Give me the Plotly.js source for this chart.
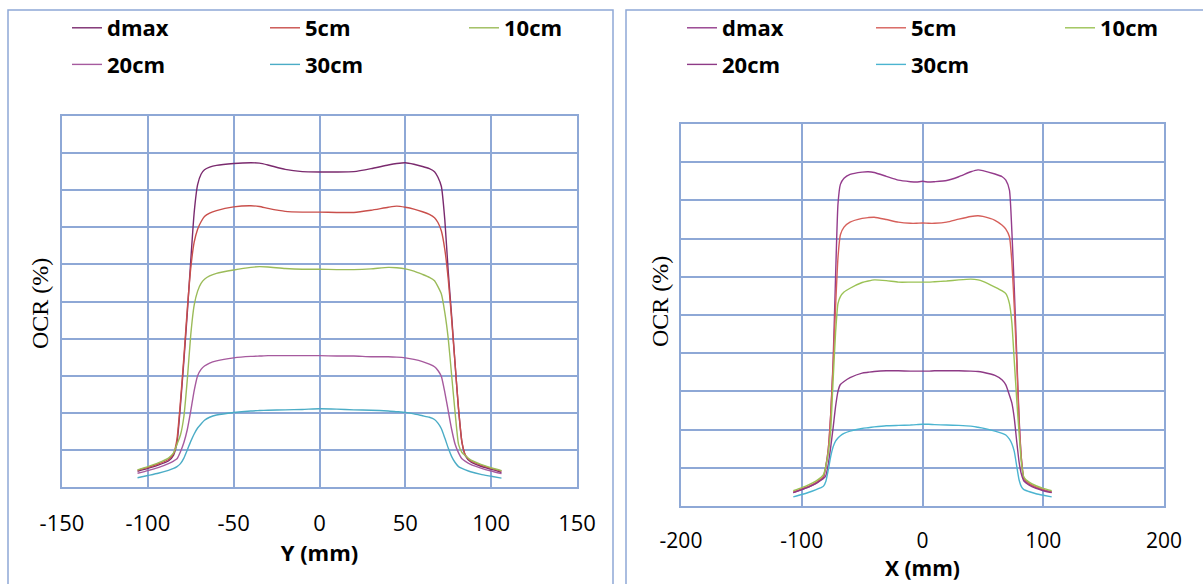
<!DOCTYPE html>
<html>
<head>
<meta charset="utf-8">
<script src="https://cdn.plot.ly/plotly-3.0.1.min.js"></script>
<style>html,body{margin:0;padding:0;background:#fff}#chart{width:1203px;height:584px}</style>
</head>
<body>
<div id="chart"></div>
<script>
// ---------- data ----------
const seriesNames = ["dmax", "5cm", "10cm", "20cm", "30cm"];

// Left panel: Y profile (mm)
const yPos = [-106,-100,-94,-88,-85,-83,-81,-79,-77,-75,-73,-71,-69,-67,-64,-60,-50,-40,-35,-30,-20,-10,0,10,20,30,40,45,50,55,60,64,67,69,71,73,75,77,79,81,83,85,88,94,100,106];
const yDmax = [4.2,5.0,5.9,7.0,8.6,12,22,34,47,61,74,81.5,84.3,85.5,86.2,86.7,87.2,87.4,87.3,86.8,85.6,85.0,84.9,84.9,85.0,85.8,86.8,87.2,87.4,87.0,86.4,85.8,85.0,83.5,81,72,58,46,33,21,12,8.4,6.8,5.6,4.8,3.9];
const y5cm  = [4.5,5.3,6.2,7.4,9.0,13,23,35,48,59,66,69.5,71.5,72.9,73.8,74.5,75.5,75.8,75.6,75.1,74.3,74.1,74.1,74.0,74.0,74.6,75.4,75.7,75.4,74.9,74.2,73.5,72.6,71.3,69.0,64,56,45,33,21,12,8.6,7.1,5.9,5.0,4.3];
const y10cm = [4.6,5.5,6.5,7.8,9.2,11.5,14,19,29,41,49,52.8,54.9,56.0,56.9,57.6,58.5,59.2,59.4,59.3,58.9,58.7,58.7,58.6,58.6,58.8,59.2,59.1,58.8,58.2,57.3,56.5,55.6,54.0,52,47,40,30,20,11.5,9.3,8.4,7.3,6.1,5.2,4.4];
const y20cm = [3.7,4.4,5.2,6.3,7.0,7.6,9.5,12,15.5,20.5,26,30.0,31.7,32.6,33.4,34.0,34.8,35.2,35.3,35.4,35.4,35.4,35.4,35.3,35.3,35.1,35.1,35.0,34.8,34.4,33.8,33.1,32.4,31.4,29.8,25.5,20.5,15.5,11.5,9.2,7.6,6.9,6.1,5.1,4.3,3.6];
const y30cm = [2.5,3.1,3.7,4.5,5.0,5.5,6.3,7.8,10.0,12.3,14.3,15.9,17.0,18.0,18.8,19.4,20.1,20.5,20.6,20.7,20.8,20.9,21.1,21.0,20.8,20.7,20.5,20.3,20.1,19.7,19.2,18.8,18.2,17.2,15.7,13.2,10.5,8.2,6.6,5.5,5.0,4.6,4.1,3.4,2.9,2.4];

// Right panel: X profile (mm)
const xPos = [-107,-100,-94,-88,-84,-82,-80,-78,-76,-74,-72,-70,-68,-65,-60,-50,-45,-40,-30,-20,-10,-5,0,5,10,20,30,40,46,50,60,66,69,72,74,76,78,80,82,84,88,94,100,107];
const xDmax = [3.5,4.3,5.0,6.0,6.8,7.4,10.5,15,24,38,60,79,84.2,85.8,86.8,87.4,87.5,87.3,86.3,85.3,84.9,84.8,85.0,84.8,84.9,85.2,86.2,87.5,88.0,87.8,86.9,86.2,85.3,82.7,72,57,40,23,12,7.0,5.8,4.8,4.2,3.7];
const x5cm  = [3.7,4.5,5.2,6.2,7.1,7.8,10.5,15,24,37,52,65,71,73.0,74.3,75.3,75.5,75.6,75.0,74.3,74.0,74.0,74.1,74.0,74.0,74.3,75.1,75.8,76.0,75.8,74.8,73.5,72.5,70.5,64,52,38,22,12,7.3,6.0,5.0,4.3,3.6];
const x10cm = [4.0,4.8,5.6,6.6,7.5,8.2,10.5,14,20,33,45.3,53,54.8,56.0,57.0,58.5,58.9,59.2,59.0,58.6,58.6,58.6,58.6,58.6,58.7,58.9,59.2,59.4,59.2,58.8,57.3,56.3,55.6,53,48,38,28,19,11,7.5,6.3,5.3,4.6,4.0];
const x20cm = [3.5,4.3,5.0,5.9,6.8,7.2,8,11,15.5,20.5,26,30,31.8,32.6,33.6,34.8,35.0,35.2,35.4,35.4,35.3,35.3,35.3,35.3,35.4,35.4,35.4,35.3,35.2,35.0,34.2,33.0,31.7,29,27,23,17,11.5,8.2,6.5,5.5,4.6,4.0,3.5];
const x30cm = [2.4,3.0,3.6,4.3,4.8,5.2,6.5,9.5,13.0,15.5,17.0,17.8,18.4,19.0,19.6,20.3,20.5,20.7,21.0,21.1,21.2,21.3,21.4,21.4,21.3,21.2,21.1,20.9,20.6,20.4,19.6,19.0,18.6,17.5,16.3,14.3,10.5,6.8,5.0,4.3,3.8,3.2,2.8,2.4];

const leftTicks = [-150,-100,-50,0,50,100,150];
const rightTicks = [-200,-100,0,100,200];
const yTitleText = "OCR (%)";

// ---------- styling ----------
const leftColors  = ["#7A2A6E", "#C94F4B", "#9BBB59", "#A65A9E", "#4BACC6"];
const rightColors = ["#943C8C", "#D65F5A", "#9BC255", "#8E3A86", "#4BB4D0"];
const gridC = "#8EA8D6";
const W = 1203, H = 584;
const px = v => v / W, py = v => 1 - v / H;

const leftY = [yDmax, y5cm, y10cm, y20cm, y30cm];
const rightY = [xDmax, x5cm, x10cm, x20cm, x30cm];
// legend column for each series (3 columns x 2 rows)
const colOf = [0, 1, 2, 0, 1];
const leftLegendIds = ["legend", "legend2", "legend3"];
const rightLegendIds = ["legend4", "legend5", "legend6"];

const traces = [];
seriesNames.forEach((n, i) => {
  traces.push({x: yPos, y: leftY[i], name: n, type: "scatter", mode: "lines",
    line: {color: leftColors[i], width: 1.4, shape: "spline", smoothing: 0.5},
    xaxis: "x", yaxis: "y", legend: leftLegendIds[colOf[i]], legendgroup: "L" + n});
});
seriesNames.forEach((n, i) => {
  traces.push({x: xPos, y: rightY[i], name: n, type: "scatter", mode: "lines",
    line: {color: rightColors[i], width: 1.4, shape: "spline", smoothing: 0.5},
    xaxis: "x2", yaxis: "y2", legend: rightLegendIds[colOf[i]], legendgroup: "R" + n});
});

const yTitleFont = {family: "Liberation Serif, serif", size: 24, color: "#000"};

function xAx(dom, rng, tv, title, anchor, standoff, tstand, fs) {
  return {domain: dom, range: rng, tickvals: tv, ticktext: tv.map(String), anchor: anchor,
    showgrid: true, gridcolor: gridC, gridwidth: 2, zeroline: false,
    showline: true, mirror: true, linecolor: gridC, linewidth: 2,
    ticks: "", tickfont: {family: "Open Sans, sans-serif", size: fs, color: "#000"},
    ticklabelstandoff: standoff,
    title: {text: title, font: {family: "Open Sans, sans-serif", size: fs, color: "#000", weight: "bold"},
            standoff: tstand}, fixedrange: true};
}
function yAx(dom, anchor) {
  return {domain: dom, range: [0, 100], dtick: 10, tick0: 0, anchor: anchor,
    showgrid: true, gridcolor: gridC, gridwidth: 2, zeroline: false,
    showline: true, mirror: true, linecolor: gridC, linewidth: 2,
    showticklabels: false, ticks: "", fixedrange: true};
}

const legendBase = {orientation: "v", xanchor: "left", yanchor: "top", traceorder: "grouped",
  font: {family: "Open Sans, sans-serif", size: 22, color: "#000", weight: "bold"},
  bgcolor: "rgba(0,0,0,0)", borderwidth: 0, tracegroupgap: 5};

// text starts 40px right of a legend's left edge
const legTextX = [107, 305, 504, 722, 911, 1100];
const legendIds = leftLegendIds.concat(rightLegendIds);

const layout = {
  width: W, height: H,
  margin: {l: 0, r: 0, t: 0, b: 0, autoexpand: false},
  paper_bgcolor: "#fff", plot_bgcolor: "#fff",
  showlegend: true,
  xaxis: xAx([px(62), px(577)], [-150, 150], leftTicks, "Y (mm)", "y", 16, 1, 22),
  yaxis: yAx([1 - 487 / H, 1 - 116 / H], "x"),
  xaxis2: xAx([px(681), px(1164)], [-200, 200], rightTicks, "X (mm)", "y2", 15, 3, 21),
  yaxis2: yAx([1 - 506 / H, 1 - 124 / H], "x2"),
  annotations: [
    {text: yTitleText, xref: "paper", yref: "paper", x: px(40), y: py(304), xanchor: "center", yanchor: "middle",
     textangle: -90, showarrow: false, font: yTitleFont},
    {text: yTitleText, xref: "paper", yref: "paper", x: px(660), y: py(302), xanchor: "center", yanchor: "middle",
     textangle: -90, showarrow: false, font: yTitleFont}
  ],
  shapes: [
    {type: "rect", xref: "paper", yref: "paper", x0: px(8), x1: px(613), y0: -0.2, y1: py(10),
     line: {color: gridC, width: 1.5}, layer: "below"},
    {type: "rect", xref: "paper", yref: "paper", x0: px(626), x1: 1.2, y0: -0.2, y1: py(10),
     line: {color: gridC, width: 1.5}, layer: "below"}
  ]
};
legendIds.forEach((id, k) => {
  layout[id] = Object.assign({}, legendBase, {x: px(legTextX[k] - 40), y: py(7)});
});

Plotly.newPlot("chart", traces, layout, {displayModeBar: false, staticPlot: true});
</script>
</body>
</html>
